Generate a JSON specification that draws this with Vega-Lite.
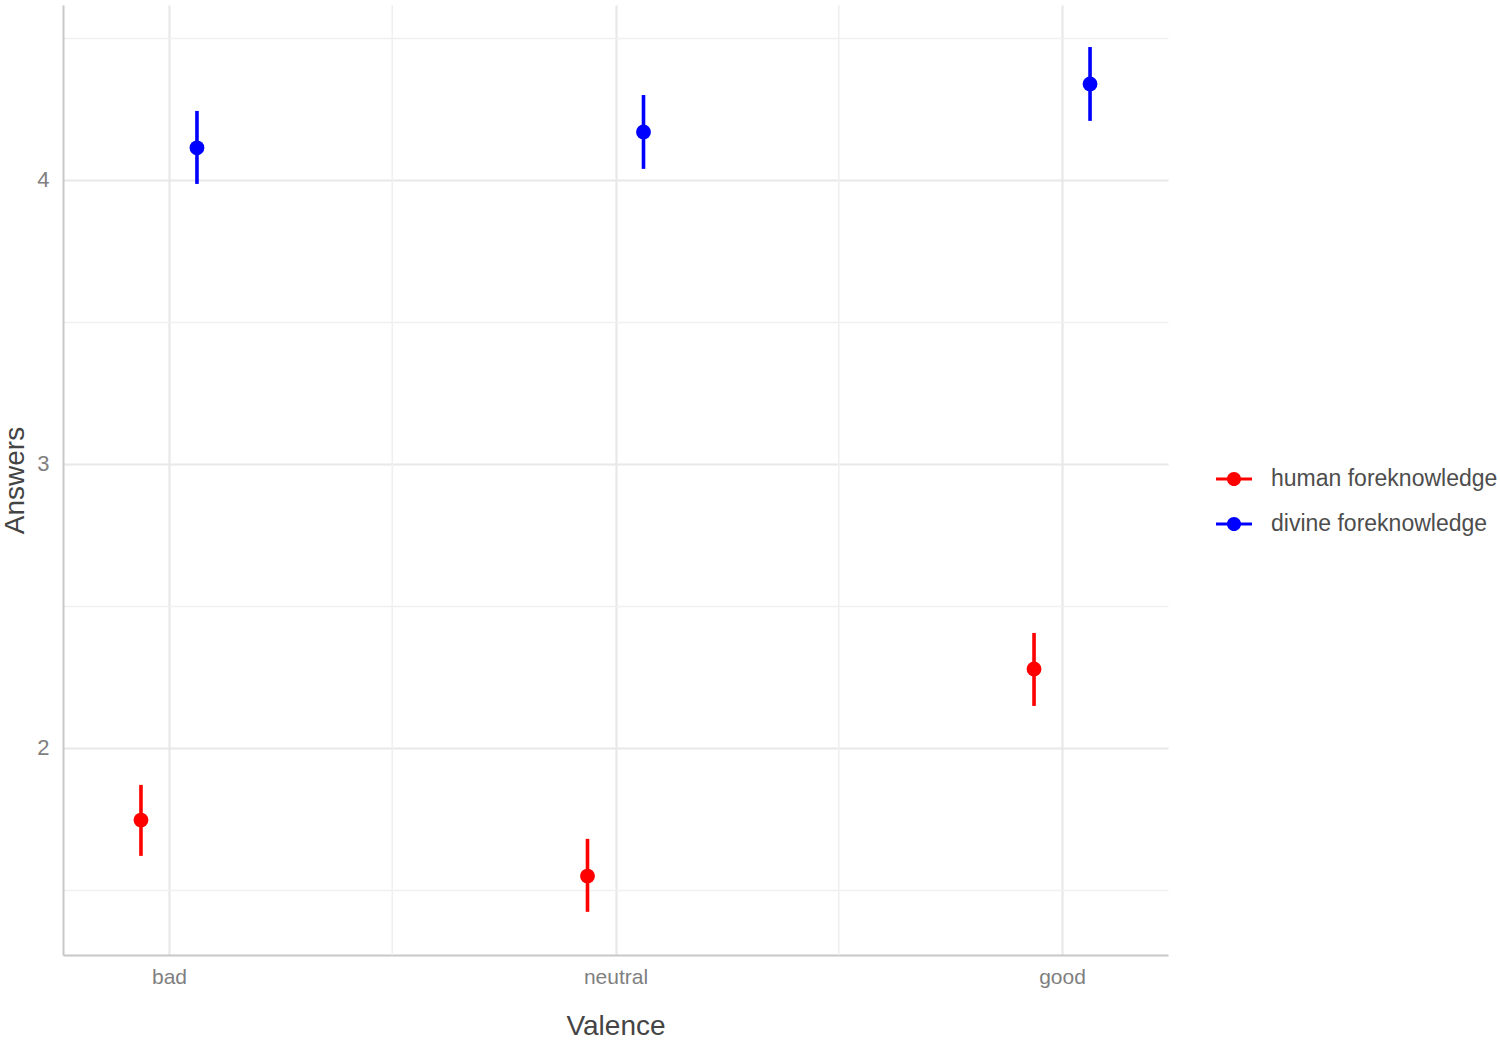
{
  "$schema": "https://vega.github.io/schema/vega-lite/v6.json",
  "autosize": "none",
  "width": 1105,
  "height": 950,
  "padding": {"left": 63, "top": 5, "right": 332, "bottom": 85},
  "background": "white",
  "config": {
    "view": {"stroke": null},
    "font": "Liberation Sans",
    "legend": {
      "symbolType": "M-1,-0.09H1V0.09H-1Z M0.39,0A0.39,0.39 0 1 1 -0.39,0A0.39,0.39 0 1 1 0.39,0Z",
      "symbolSize": 1296, "symbolStrokeWidth": 0, "symbolOpacity": 1,
      "labelFontSize": 23, "labelColor": "#4d4d4d", "labelOffset": 19, "rowPadding": 15, "labelLimit": 0
    }
  },
  "datasets": {
    "summary": [
      {"Valence": "bad", "group": "human foreknowledge", "mean": 1.746, "lo": 1.620, "hi": 1.870},
      {"Valence": "bad", "group": "divine foreknowledge", "mean": 4.113, "lo": 3.986, "hi": 4.243},
      {"Valence": "neutral", "group": "human foreknowledge", "mean": 1.549, "lo": 1.423, "hi": 1.680},
      {"Valence": "neutral", "group": "divine foreknowledge", "mean": 4.169, "lo": 4.039, "hi": 4.299},
      {"Valence": "good", "group": "human foreknowledge", "mean": 2.278, "lo": 2.148, "hi": 2.405},
      {"Valence": "good", "group": "divine foreknowledge", "mean": 4.338, "lo": 4.208, "hi": 4.468}
    ],
    "minorx": [
      {"Valence": "bad"},
      {"Valence": "neutral"}
    ]
  },
  "layer": [
    {
      "data": {"name": "minorx"},
      "mark": {"type": "rule", "xOffset": 223.3, "color": "#f0f0f0", "strokeWidth": 1.6},
      "encoding": {
        "x": {"field": "Valence", "type": "nominal"}
      }
    },
    {
      "data": {"name": "summary"},
      "mark": {"type": "rule", "strokeWidth": 3.6},
      "encoding": {
        "x": {"field": "Valence", "type": "nominal"},
        "xOffset": {"field": "group", "type": "nominal", "scale": {"domain": ["human foreknowledge", "divine foreknowledge"], "range": [-56, 56]}},
        "y": {"field": "lo", "type": "quantitative"},
        "y2": {"field": "hi"},
        "color": {"field": "group", "type": "nominal", "scale": {"domain": ["human foreknowledge", "divine foreknowledge"], "range": ["#ff0000", "#0000ff"]}, "legend": {"title": null, "orient": "none", "legendX": 1153, "legendY": 456}}
      }
    },
    {
      "data": {"name": "summary"},
      "mark": {"type": "point", "filled": true, "opacity": 1, "size": 220, "shape": "circle"},
      "encoding": {
        "x": {
          "field": "Valence", "type": "nominal",
          "scale": {"type": "point", "domain": ["bad", "neutral", "good"], "padding": 0.2373},
          "axis": {
            "title": "Valence", "labelAngle": 0, "labelAlign": "center", "ticks": false,
            "labelFontSize": 21, "labelColor": "#7f7f7f", "labelPadding": 22,
            "titleFontSize": 28, "titleFontWeight": "normal", "titleColor": "#444444", "titlePadding": 25,
            "domainColor": "#c8c8c8", "domainWidth": 2,
            "grid": true, "gridColor": "#e8e8e8", "gridWidth": 2.2
          }
        },
        "xOffset": {"field": "group", "type": "nominal", "scale": {"domain": ["human foreknowledge", "divine foreknowledge"], "range": [-56, 56]}},
        "y": {
          "field": "mean", "type": "quantitative",
          "scale": {"domain": [1.271, 4.616], "nice": false, "zero": false},
          "axis": {
            "title": "Answers", "values": [1.5, 2, 2.5, 3, 3.5, 4, 4.5], "ticks": false,
            "labelExpr": "datum.value % 1 === 0 ? format(datum.value, 'd') : ''",
            "labelFontSize": 22, "labelColor": "#7f7f7f", "labelPadding": 14,
            "titleFontSize": 28, "titleFontWeight": "normal", "titleColor": "#444444", "titlePadding": 7,
            "domainColor": "#c8c8c8", "domainWidth": 2,
            "grid": true,
            "gridColor": {"condition": {"test": "datum.value % 1 === 0", "value": "#e8e8e8"}, "value": "#f0f0f0"},
            "gridWidth": {"condition": {"test": "datum.value % 1 === 0", "value": 2.2}, "value": 1.6}
          }
        },
        "color": {
          "field": "group", "type": "nominal",
          "scale": {"domain": ["human foreknowledge", "divine foreknowledge"], "range": ["#ff0000", "#0000ff"]},
          "legend": {"title": null, "orient": "none", "legendX": 1153, "legendY": 456}
        }
      }
    }
  ]
}
